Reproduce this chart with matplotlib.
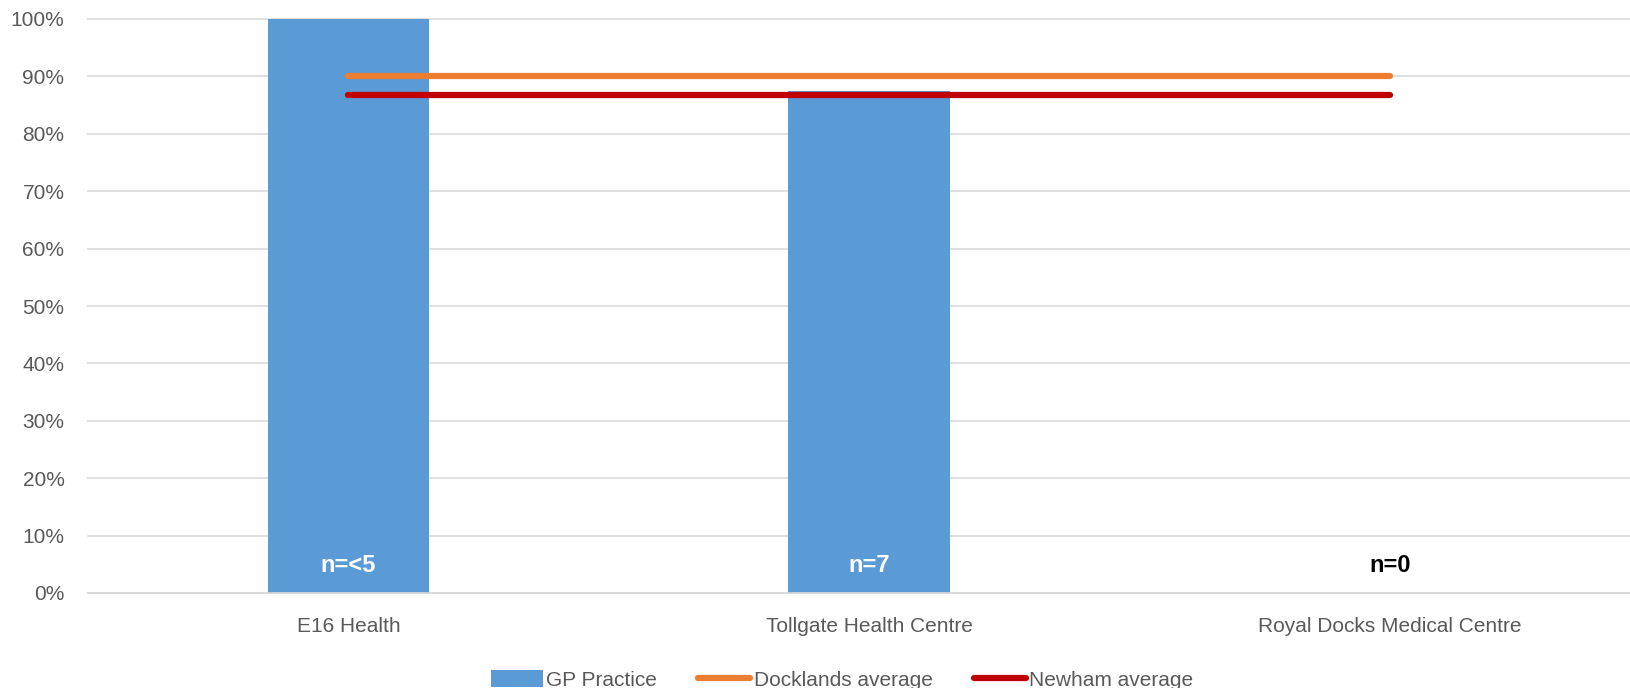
import matplotlib
matplotlib.use("Agg")
import matplotlib.pyplot as plt
from matplotlib.ticker import PercentFormatter

categories = ['E16 Health', 'Tollgate Health Centre', 'Royal Docks Medical Centre']
gp_practice = [1.0, 0.875, 0.0]
docklands_avg = [0.90, 0.90, 0.90]
newham_avg = [0.867, 0.867, 0.867]
n_labels = ['n=<5', 'n=7', 'n=0']
yticks = [0, 0.1, 0.2, 0.3, 0.4, 0.5, 0.6, 0.7, 0.8, 0.9, 1.0]

plt.rcParams['font.family'] = ['Liberation Sans', 'DejaVu Sans']

W, H = 1631, 688
fig = plt.figure(figsize=(W / 100, H / 100), dpi=100)
ax = fig.add_axes([88 / W, (H - 593) / H, 1 - 88 / W, (593 - 19) / H])

x = list(range(len(categories)))
bars = ax.bar(x, gp_practice, width=0.31, color='#5B9BD5', label='GP Practice', zorder=2)
l1, = ax.plot(x, docklands_avg, color='#ED7D31', lw=4.5, solid_capstyle='round',
              label='Docklands average', zorder=3)
l2, = ax.plot(x, newham_avg, color='#C00000', lw=4.5, solid_capstyle='round',
              label='Newham average', zorder=3)

for xi, lab, v in zip(x, n_labels, gp_practice):
    col = 'white' if v > 0.06 else 'black'
    ax.text(xi, 0.048, lab, ha='center', va='center', fontsize=17,
            fontweight='bold', color=col, zorder=4)

ax.set_ylim(0, 1.0)
ax.set_xlim(-0.5, 2.5 - 19 / 520)
ax.set_yticks(yticks)
ax.yaxis.set_major_formatter(PercentFormatter(1.0, decimals=0))
ax.set_xticks(x)
ax.set_xticklabels(categories)
ax.tick_params(axis='both', length=0, labelsize=15, labelcolor='#595959')
ax.tick_params(axis='y', pad=17)
ax.tick_params(axis='x', pad=17)
ax.grid(axis='y', color='#D9D9D9', lw=1.2, zorder=0)
for gl in ax.get_ygridlines():
    gl.set_clip_on(False)
for s in ['top', 'right', 'left']:
    ax.spines[s].set_visible(False)
ax.spines['bottom'].set_color('#D9D9D9')
ax.spines['bottom'].set_linewidth(1.2)

leg = fig.legend([bars, l1, l2], ['GP Practice', 'Docklands average', 'Newham average'],
                 loc='lower center', bbox_to_anchor=(842 / W, -0.03), ncol=3,
                 frameon=False, fontsize=15, handlelength=2.5, handleheight=0.9,
                 columnspacing=2.0, handletextpad=0.15, labelcolor='#595959')

fig.savefig('out.png', dpi=100)
